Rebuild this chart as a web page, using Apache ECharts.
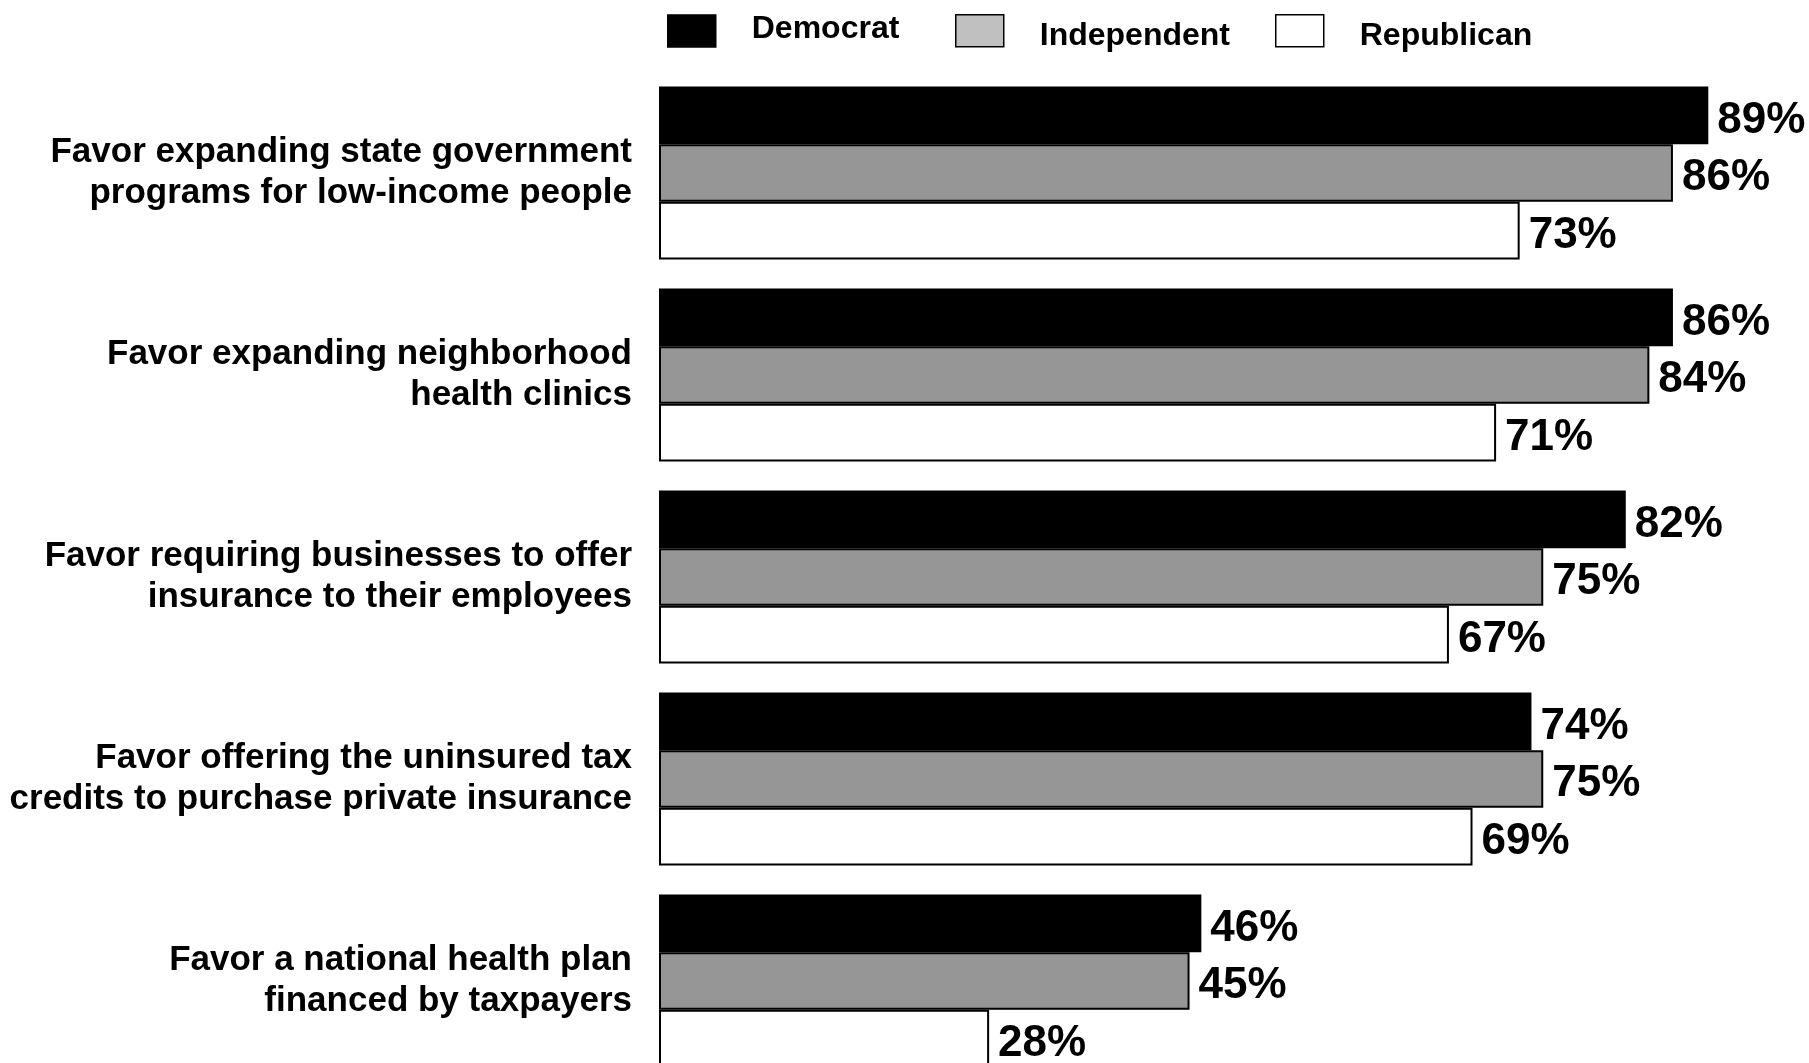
<!DOCTYPE html>
<html>
<head>
<meta charset="utf-8">
<script src="https://cdn.jsdelivr.net/npm/echarts@6/dist/echarts.min.js"></script>
<style>html,body{margin:0;padding:0;background:#fff}#c{width:1809px;height:1063px}</style>
</head>
<body>
<div id="c"></div>
<script>
const categories = [
  "Favor expanding state government\nprograms for low-income people",
  "Favor expanding neighborhood\nhealth clinics",
  "Favor requiring businesses to offer\ninsurance to their employees",
  "Favor offering the uninsured tax\ncredits to purchase private insurance",
  "Favor a national health plan\nfinanced by taxpayers"
];
const democrat = [89, 86, 82, 74, 46];
const independent = [86, 84, 75, 75, 45];
const republican = [73, 71, 67, 69, 28];

const FONT = '"Liberation Sans", Arial, sans-serif';
const chart = echarts.init(document.getElementById('c'));

function legendItem(name, left, top, swatch, textPad) {
  return {
    left: left, top: top, orient: 'horizontal', padding: 0,
    itemWidth: 48, itemHeight: 32, selectedMode: false,
    data: [{ name: name, icon: 'rect', itemStyle: { color: swatch, borderColor: '#000', borderWidth: 1.5 } }],
    formatter: '{t|{name}}',
    textStyle: {
      fontFamily: FONT, fontWeight: 'bold', fontSize: 32, color: '#000',
      rich: { t: { fontFamily: FONT, fontWeight: 'bold', fontSize: 32, color: '#000', padding: textPad } }
    }
  };
}

function series(name, data, color) {
  return {
    name: name, type: 'bar', data: data,
    barGap: '0%', barCategoryGap: '14.4%',
    itemStyle: { color: color, borderColor: '#000', borderWidth: 2 },
    label: {
      show: true, position: 'right', distance: 9, offset: [0, 5],
      formatter: '{c}%', fontFamily: FONT, fontWeight: 'bold', fontSize: 44, color: '#000'
    },
    emphasis: { disabled: true },
    animation: false
  };
}

chart.setOption({
  backgroundColor: '#fff',
  animation: false,
  legend: [
    legendItem('Democrat', 667, 13, '#000', [0, 0, 4, 31]),
    legendItem('Independent', 955, 14, '#c0c0c0', [10, 0, 0, 31]),
    legendItem('Republican', 1275, 14, '#fff', [10, 0, 0, 31])
  ],
  grid: { left: 659, top: 72, width: 1179, height: 1010, containLabel: false, outerBoundsMode: 'none' },
  xAxis: { type: 'value', min: 0, max: 100, show: false },
  yAxis: {
    type: 'category', data: categories, inverse: true,
    axisLine: { show: false }, axisTick: { show: false }, splitLine: { show: false },
    axisLabel: {
      margin: 27, fontFamily: FONT, fontWeight: 'bold', fontSize: 35, lineHeight: 41.5,
      color: '#000', align: 'right'
    }
  },
  series: [
    series('Democrat', democrat, '#000'),
    series('Independent', independent, '#969696'),
    series('Republican', republican, '#fff')
  ]
});
</script>
</body>
</html>
